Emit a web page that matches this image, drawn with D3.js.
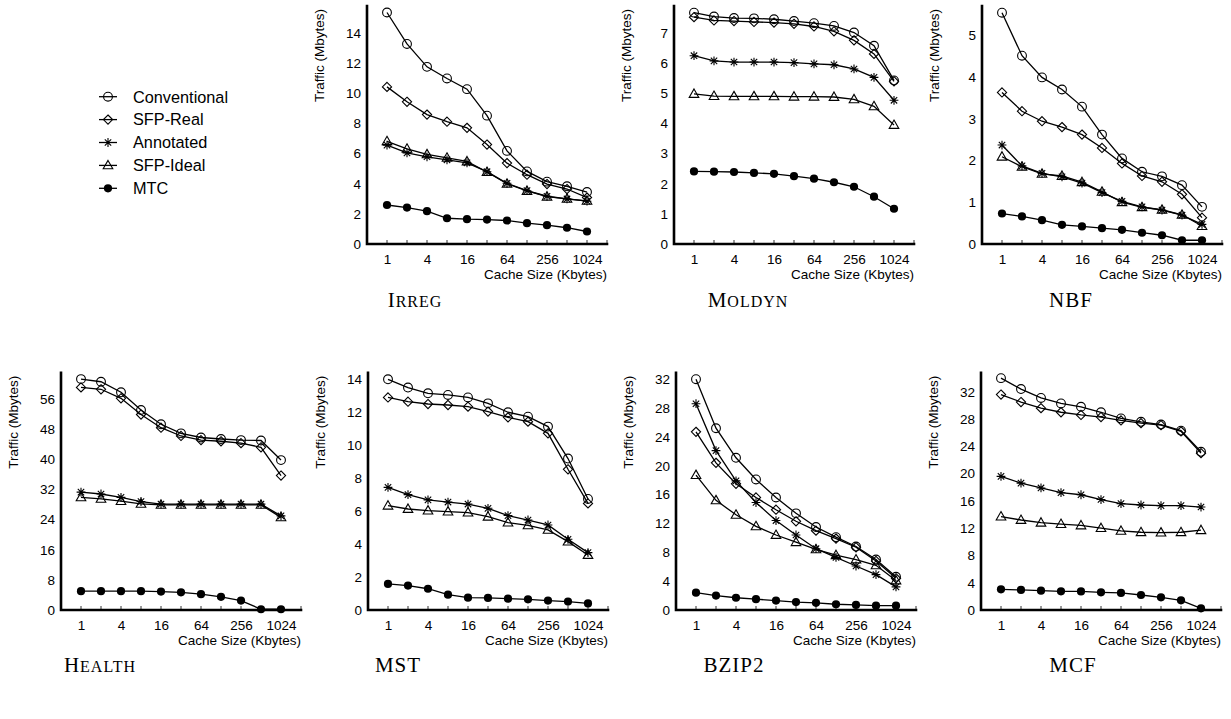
<!DOCTYPE html>
<html><head><meta charset="utf-8">
<script src="https://cdn.jsdelivr.net/npm/d3@7"></script>
<style>body{margin:0;background:#fff}svg{display:block}</style>
</head><body>
<script>
const cacheSizes = [1,2,4,8,16,32,64,128,256,512,1024];
const xTickLabels = [1,4,16,64,256,1024];
const seriesNames = ["Conventional","SFP-Real","Annotated","SFP-Ideal","MTC"];
const seriesMarkers = ["circle","diamond","star","triangle","dot"];

const irregConv = [15.37,13.28,11.76,10.99,10.28,8.52,6.18,4.82,4.14,3.83,3.45];
const irregReal = [10.43,9.44,8.59,8.12,7.71,6.60,5.37,4.60,3.98,3.65,3.08];
const irregAnn = [6.56,6.05,5.79,5.59,5.39,4.80,4.03,3.54,3.17,2.99,2.84];
const irregIdeal = [6.82,6.32,5.95,5.72,5.48,4.78,4.00,3.52,3.14,3.00,2.86];
const irregMTC = [2.59,2.42,2.18,1.71,1.65,1.62,1.56,1.38,1.25,1.08,0.83];

const moldynConv = [7.68,7.55,7.50,7.49,7.46,7.40,7.33,7.24,7.02,6.58,5.43];
const moldynReal = [7.53,7.42,7.40,7.37,7.35,7.31,7.22,7.06,6.76,6.31,5.40];
const moldynAnn = [6.25,6.08,6.04,6.04,6.04,6.02,5.98,5.95,5.81,5.53,4.77];
const moldynIdeal = [4.98,4.91,4.90,4.90,4.90,4.89,4.89,4.88,4.80,4.57,3.95];
const moldynMTC = [2.41,2.40,2.39,2.36,2.33,2.25,2.17,2.05,1.90,1.57,1.17];

const nbfConv = [5.54,4.51,3.99,3.70,3.29,2.62,2.05,1.73,1.62,1.41,0.89];
const nbfReal = [3.63,3.18,2.94,2.80,2.62,2.30,1.93,1.63,1.49,1.19,0.63];
const nbfAnn = [2.37,1.87,1.69,1.61,1.46,1.23,1.02,0.89,0.81,0.69,0.47];
const nbfIdeal = [2.09,1.85,1.68,1.63,1.48,1.25,1.00,0.88,0.82,0.70,0.43];
const nbfMTC = [0.73,0.66,0.57,0.46,0.42,0.38,0.34,0.27,0.21,0.09,0.09];

const healthConv = [61.3,60.6,57.8,53.1,49.3,46.9,45.8,45.4,45.1,45.0,39.8];
const healthReal = [59.1,58.6,56.2,51.9,48.4,46.2,45.1,44.8,44.3,43.2,35.7];
const healthAnn = [31.3,30.8,29.9,28.8,28.1,28.1,28.1,28.1,28.1,28.1,25.0];
const healthIdeal = [29.9,29.5,28.9,28.2,27.9,27.9,27.9,27.9,27.9,27.9,24.6];
const healthMTC = [5.0,5.0,5.0,5.0,4.9,4.7,4.2,3.5,2.5,0.2,0.2];

const mstConv = [14.0,13.5,13.15,13.05,12.9,12.54,12.0,11.73,11.13,9.19,6.74];
const mstReal = [12.9,12.64,12.5,12.44,12.34,12.04,11.69,11.43,10.72,8.54,6.47];
const mstAnn = [7.44,7.0,6.68,6.55,6.43,6.17,5.73,5.46,5.16,4.29,3.48];
const mstIdeal = [6.33,6.13,6.03,5.97,5.91,5.66,5.30,5.14,4.86,4.15,3.34];
const mstMTC = [1.58,1.48,1.29,0.93,0.75,0.73,0.69,0.65,0.57,0.51,0.40];

const bzip2Conv = [32.0,25.2,21.1,18.1,15.6,13.4,11.5,10.1,8.8,7.0,4.6];
const bzip2Real = [24.7,20.4,17.5,15.6,13.9,12.3,11.0,9.9,8.7,6.8,4.4];
const bzip2Ann = [28.6,22.1,17.9,14.9,12.4,10.4,8.5,7.3,6.1,4.9,3.2];
const bzip2Ideal = [18.7,15.2,13.2,11.6,10.4,9.4,8.4,7.6,7.0,6.2,4.1];
const bzip2MTC = [2.4,2.0,1.7,1.5,1.3,1.1,1.0,0.8,0.7,0.6,0.6];

const mcfConv = [34.0,32.4,31.1,30.3,29.8,29.0,28.1,27.6,27.2,26.3,23.2];
const mcfReal = [31.6,30.5,29.6,29.0,28.6,28.3,27.8,27.4,27.1,26.2,23.0];
const mcfAnn = [19.6,18.6,17.9,17.2,16.9,16.2,15.6,15.4,15.3,15.3,15.1];
const mcfIdeal = [13.7,13.2,12.8,12.6,12.4,12.0,11.6,11.4,11.35,11.4,11.7];
const mcfMTC = [3.03,2.94,2.84,2.74,2.72,2.59,2.50,2.20,1.86,1.42,0.24];

const panelTitles = ["Irreg","Moldyn","NBF","Health","MST","BZIP2","MCF"];
const panelSmallCaps = [true,true,false,true,false,false,false];
const panelYMax = [15.8,7.9,5.7,63,14.4,32.9,34.8];
const panelYTicks = [[0,2,4,6,8,10,12,14],[0,1,2,3,4,5,6,7],[0,1,2,3,4,5],
  [0,8,16,24,32,40,48,56],[0,2,4,6,8,10,12,14],[0,4,8,12,16,20,24,28,32],[0,4,8,12,16,20,24,28,32]];
const panelSeries = [
  [irregConv,irregReal,irregAnn,irregIdeal,irregMTC],
  [moldynConv,moldynReal,moldynAnn,moldynIdeal,moldynMTC],
  [nbfConv,nbfReal,nbfAnn,nbfIdeal,nbfMTC],
  [healthConv,healthReal,healthAnn,healthIdeal,healthMTC],
  [mstConv,mstReal,mstAnn,mstIdeal,mstMTC],
  [bzip2Conv,bzip2Real,bzip2Ann,bzip2Ideal,bzip2MTC],
  [mcfConv,mcfReal,mcfAnn,mcfIdeal,mcfMTC]];

// layout
const axisLeft = [367,674,982,61,368,676,981];
const axisBottom = [244,244,244,610,610,610,610];
const axisTop = [6,6,6,372.7,372.7,372.7,372.7];
const titleCenter = [415,748,1071,100,398,734,1073];
const titleBaseline = [307,307,307,672,672,672,672];

const W=1231,H=719;
const svg = d3.select("body").append("svg").attr("width",W).attr("height",H);
const sans = "'Liberation Sans', Arial, Helvetica, sans-serif";

function drawMarker(g, type, x, y){
  const s = 4.4;
  if(type==="circle") g.append("circle").attr("cx",x).attr("cy",y).attr("r",4.4).attr("fill","none").attr("stroke","#000").attr("stroke-width",1.1);
  else if(type==="dot") g.append("circle").attr("cx",x).attr("cy",y).attr("r",4.1).attr("fill","#000");
  else if(type==="diamond") g.append("path").attr("d",`M${x},${y-4.6}L${x+4.6},${y}L${x},${y+4.6}L${x-4.6},${y}Z`).attr("fill","none").attr("stroke","#000").attr("stroke-width",1.1);
  else if(type==="triangle") g.append("path").attr("d",`M${x},${y-5}L${x+4.8},${y+3.4}L${x-4.8},${y+3.4}Z`).attr("fill","none").attr("stroke","#000").attr("stroke-width",1.1);
  else if(type==="star") g.append("path").attr("d",`M${x-s},${y}L${x+s},${y}M${x},${y-s}L${x},${y+s}M${x-3.2},${y-3.2}L${x+3.2},${y+3.2}M${x-3.2},${y+3.2}L${x+3.2},${y-3.2}`).attr("fill","none").attr("stroke","#000").attr("stroke-width",1.1);
}

panelTitles.forEach((title,p)=>{
  const g = svg.append("g");
  const x0 = axisLeft[p];
  const x = d3.scaleLog().base(2).domain([0.5,2048]).range([x0, x0+240]);
  const y = d3.scaleLinear().domain([0,panelYMax[p]]).range([axisBottom[p], axisTop[p]]);
  // x axis
  const xAx = d3.axisBottom(x).tickValues(xTickLabels).tickFormat(d3.format("d")).tickSize(0).tickPadding(10);
  const xg = g.append("g").attr("transform",`translate(0,${axisBottom[p]})`).call(xAx);
  xg.select(".domain").remove();
  xg.selectAll("text").attr("font-family",sans).attr("font-size",13.5).attr("fill","#000");
  // minor ticks inward
  g.selectAll(".mt").data(cacheSizes.concat([2048])).enter().append("line")
    .attr("x1",d=>x(d)).attr("x2",d=>x(d)).attr("y1",axisBottom[p]).attr("y2",axisBottom[p]-4)
    .attr("stroke","#000").attr("stroke-width",0.8);
  // y axis
  const yAx = d3.axisLeft(y).tickValues(panelYTicks[p]).tickFormat(d3.format("d")).tickSize(0).tickPadding(6);
  const yg = g.append("g").attr("transform",`translate(${x0},0)`).call(yAx);
  yg.select(".domain").remove();
  yg.selectAll("text").attr("font-family",sans).attr("font-size",13.5).attr("fill","#000");
  // axis lines
  g.append("path").attr("d",`M${x0},${axisTop[p]}L${x0},${axisBottom[p]}L${x0+240},${axisBottom[p]}`)
    .attr("fill","none").attr("stroke","#000").attr("stroke-width",2.6).attr("stroke-linecap","square");
  // labels
  g.append("text").attr("x",x0+240).attr("y",axisBottom[p]+35).attr("text-anchor","end")
    .attr("font-family",sans).attr("font-size",13.5).text("Cache Size (Kbytes)");
  g.append("text").attr("transform",`translate(${x0-43},${axisTop[p]+3}) rotate(-90)`).attr("text-anchor","end")
    .attr("font-family",sans).attr("font-size",13.5).text("Traffic (Mbytes)");
  // series
  const line = d3.line().x((d,i)=>x(cacheSizes[i])).y(d=>y(d));
  panelSeries[p].forEach((vals,s)=>{
    g.append("path").attr("d",line(vals)).attr("fill","none").attr("stroke","#000").attr("stroke-width",1.3);
    vals.forEach((v,i)=>drawMarker(g, seriesMarkers[s], x(cacheSizes[i]), y(v)));
  });
  // title
  const t = g.append("text").attr("x",titleCenter[p]).attr("y",titleBaseline[p]).attr("text-anchor","middle")
    .attr("font-family","'Liberation Serif','DejaVu Serif',serif").attr("font-size",21).attr("letter-spacing",1);
  if(panelSmallCaps[p]){
    t.append("tspan").text(title[0]);
    t.append("tspan").attr("font-size",16).text(title.slice(1).toUpperCase());
  } else t.text(title);
});

// legend
const legTop = 96.7, legStep = 22.9;
seriesNames.forEach((name,i)=>{
  const cy = legTop + i*legStep;
  svg.append("line").attr("x1",99).attr("x2",117).attr("y1",cy).attr("y2",cy).attr("stroke","#000").attr("stroke-width",1.3);
  drawMarker(svg, seriesMarkers[i], 108, cy);
  svg.append("text").attr("x",133).attr("y",cy+5.8).attr("font-family",sans).attr("font-size",16.3).text(name);
});
</script>
</body></html>
